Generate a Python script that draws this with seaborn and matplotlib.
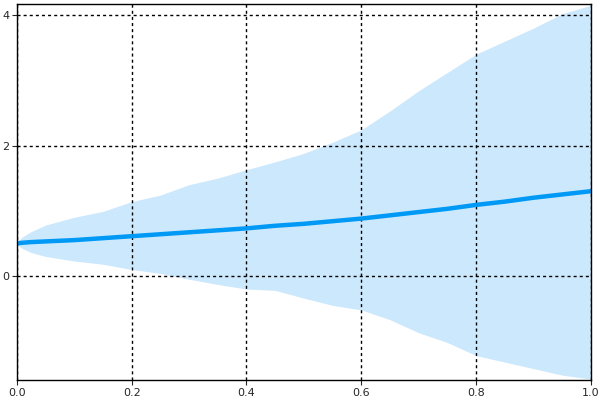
import matplotlib
matplotlib.use("Agg")
import matplotlib.pyplot as plt
import numpy as np
import pandas as pd
import seaborn as sns

x_vals = [0.00, 0.01, 0.025, 0.05, 0.10, 0.15, 0.20, 0.25, 0.30, 0.35, 0.40, 0.45, 0.50,
          0.55, 0.60, 0.65, 0.70, 0.75, 0.80, 0.85, 0.90, 0.95, 1.00]
mean_vals = [0.50, 0.51, 0.52, 0.53, 0.55, 0.58, 0.61, 0.64, 0.67, 0.70, 0.73, 0.77, 0.80,
             0.84, 0.88, 0.93, 0.98, 1.03, 1.09, 1.14, 1.20, 1.25, 1.30]
upper_vals = [0.52, 0.60, 0.68, 0.78, 0.90, 0.99, 1.14, 1.24, 1.40, 1.50, 1.63, 1.75, 1.88,
              2.05, 2.24, 2.53, 2.84, 3.12, 3.40, 3.60, 3.80, 4.02, 4.15]
lower_vals = [0.48, 0.42, 0.36, 0.30, 0.23, 0.18, 0.10, 0.04, -0.05, -0.13, -0.20, -0.22, -0.34,
              -0.45, -0.52, -0.67, -0.87, -1.02, -1.22, -1.32, -1.42, -1.52, -1.58]

df = pd.DataFrame({"x": x_vals, "mean": mean_vals, "upper": upper_vals, "lower": lower_vals})

sns.set_style("white")
plt.rcParams["font.family"] = ["DejaVu Sans"]

fig = plt.figure(figsize=(6, 4), dpi=100)
ax = fig.add_axes([0.028, 0.05, 0.957, 0.94])

ax.fill_between(df["x"], df["lower"], df["upper"], color="#cce8fc", linewidth=0, zorder=1)
sns.lineplot(data=df, x="x", y="mean", color="#0099f5", linewidth=3.2, ax=ax, zorder=3)

ax.set_xlim(0, 1)
ax.set_ylim(-1.594, 4.169)
ax.set_xticks([0.0, 0.2, 0.4, 0.6, 0.8, 1.0])
ax.set_yticks([0, 2, 4])
ax.set_xticklabels(["0.0", "0.2", "0.4", "0.6", "0.8", "1.0"])
ax.set_yticklabels(["0", "2", "4"])
ax.set_xlabel("")
ax.set_ylabel("")
ax.grid(True, color="black", linestyle=(0, (2.2, 2.2)), linewidth=1.0, zorder=2)
ax.set_axisbelow(False)
ax.tick_params(axis="both", direction="out", length=3.5, width=0.8, labelsize=8,
               left=True, bottom=True, pad=2)
for side in ax.spines.values():
    side.set_color("black")
    side.set_linewidth(1.0)
    side.set_zorder(4)

fig.savefig("out.png", dpi=100)
plt.close(fig)
